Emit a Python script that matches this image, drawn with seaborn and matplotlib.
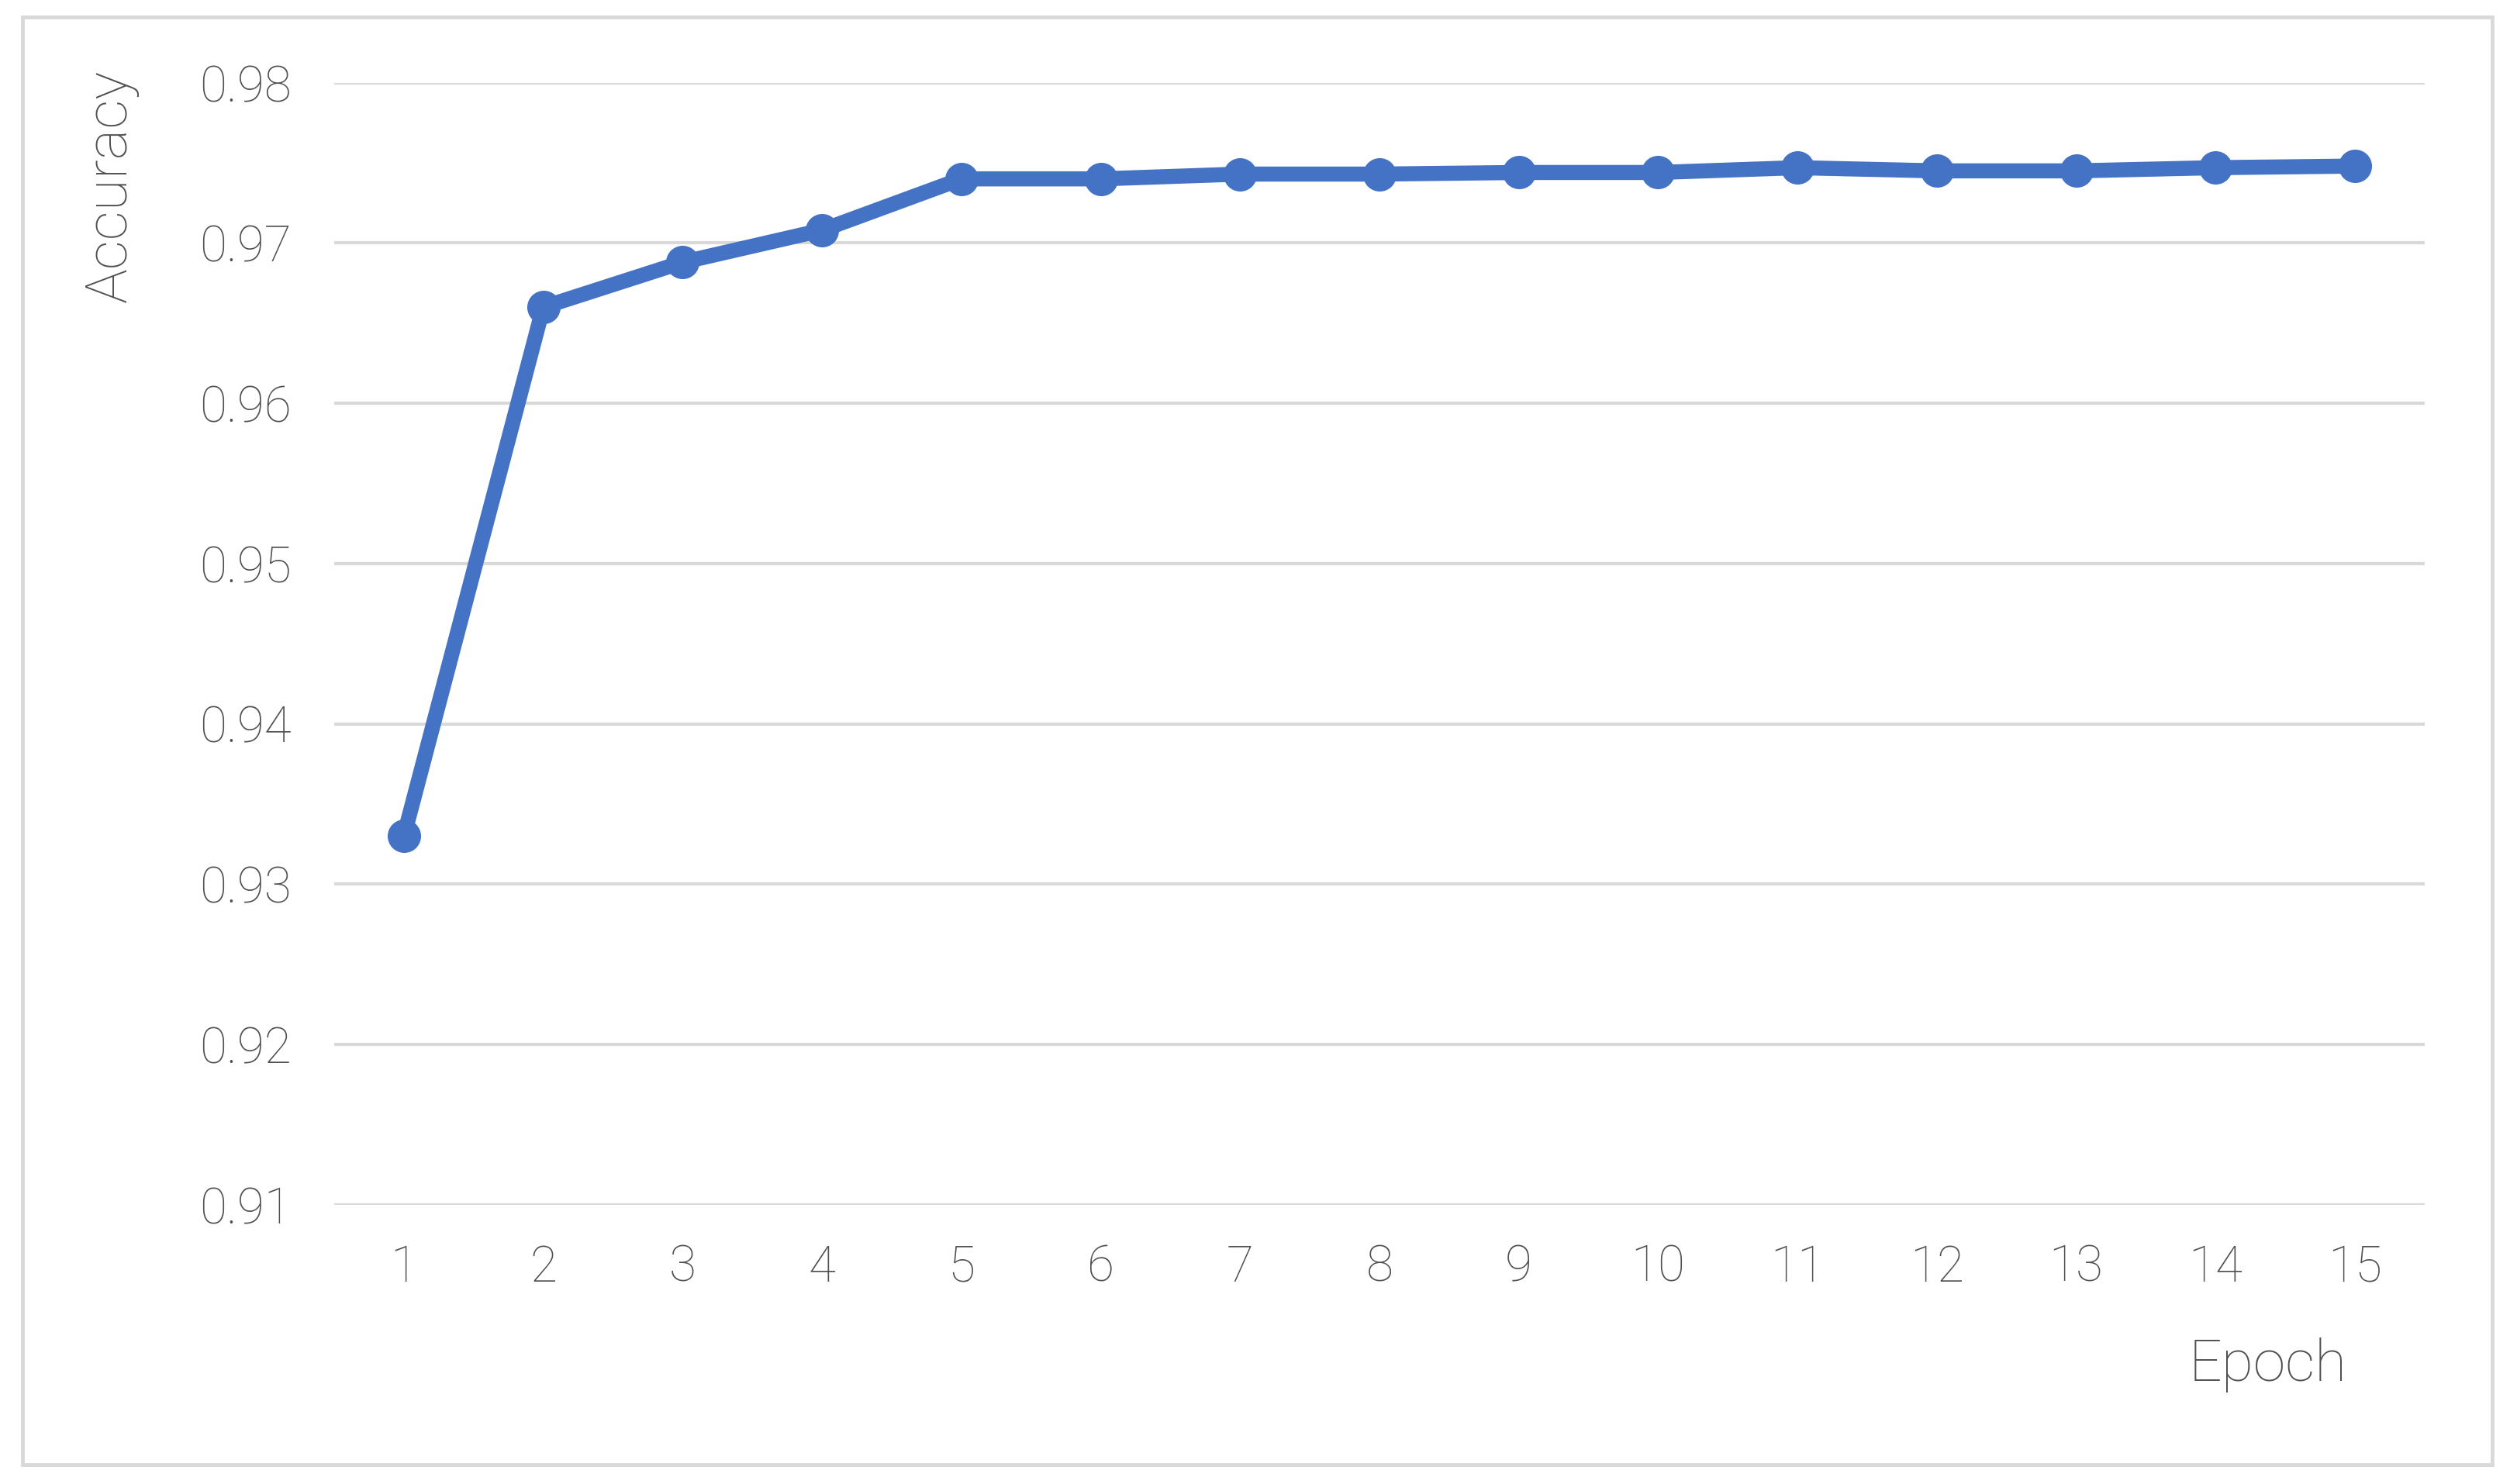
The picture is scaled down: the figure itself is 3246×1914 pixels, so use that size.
import matplotlib
matplotlib.use('Agg')
import matplotlib.pyplot as plt
import seaborn as sns
import pandas as pd
from matplotlib.patches import Rectangle

# data
epochs = list(range(1, 16))
accuracy = [0.9330, 0.9660, 0.9688, 0.9708, 0.9740, 0.9740, 0.9743, 0.9743,
            0.9744, 0.9744, 0.9747, 0.9745, 0.9745, 0.9747, 0.9748]
y_ticks = [0.91, 0.92, 0.93, 0.94, 0.95, 0.96, 0.97, 0.98]

df = pd.DataFrame({'Epoch': epochs, 'Accuracy': accuracy})

sns.set_theme(style='white')
plt.rcParams['font.family'] = ['Roboto', 'DejaVu Sans']

text_color = '#505050'
grid_color = '#D9D9D9'
line_color = '#4472C4'

fig = plt.figure(figsize=(32.46, 19.14), dpi=100)
ax = fig.add_axes([431 / 3246, 1 - 1553.6 / 1914, 2696 / 3246, (1553.6 - 106.7) / 1914])

sns.lineplot(data=df, x='Epoch', y='Accuracy', ax=ax, color=line_color,
             linewidth=14, marker='o', markersize=31, markeredgewidth=0)

ax.set_xlim(0.5, 15.5)
ax.set_ylim(0.91, 0.98)
ax.set_yticks(y_ticks)
ax.set_yticklabels([f'{v:.2f}' for v in y_ticks])
ax.set_xticks(epochs)
ax.set_xticklabels([str(e) for e in epochs])
ax.yaxis.grid(True, color=grid_color, linewidth=3)
ax.set_axisbelow(True)
for s in ax.spines.values():
    s.set_visible(False)
ax.tick_params(axis='both', length=0, labelsize=46, labelcolor=text_color)
ax.tick_params(axis='y', pad=40)
ax.tick_params(axis='x', pad=36)
for lbl in ax.get_xticklabels() + ax.get_yticklabels():
    lbl.set_fontweight('light')
ax.set_xlabel('')
ax.set_ylabel('')

fig.text(143 / 3246, 1 - 240 / 1914, 'Accuracy', rotation=90, ha='center', va='center',
         fontsize=54, color=text_color, fontweight='light')
fig.text(2925 / 3246, 1 - 1760 / 1914, 'Epoch', ha='center', va='center',
         fontsize=54, color=text_color, fontweight='light')

# outer chart border
fig.patches.append(Rectangle((29 / 3246, 1 - 1889 / 1914), (3214 - 29) / 3246, (1889 - 22) / 1914,
                             transform=fig.transFigure, fill=False, edgecolor=grid_color,
                             linewidth=3.5))

fig.savefig('out.png', dpi=100)
